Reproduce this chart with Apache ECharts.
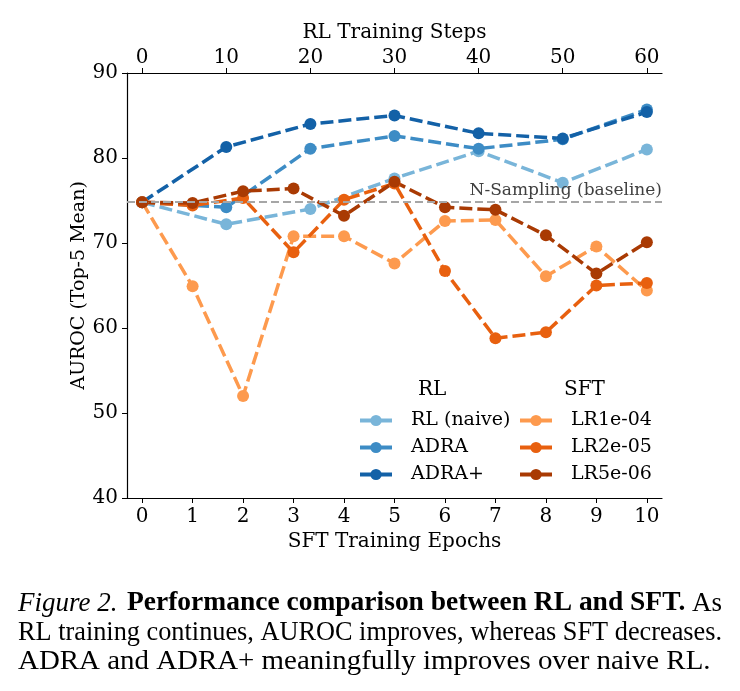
<!DOCTYPE html>
<html>
<head>
<meta charset="utf-8">
<script src="https://cdn.jsdelivr.net/npm/echarts@6/dist/echarts.min.js"></script>
<style>
  html, body { margin: 0; padding: 0; background: #fff; }
  #main { width: 740px; height: 691px; }
</style>
</head>
<body>
<div id="main"></div>
<script>
// x values
var epochs = [0, 1, 2, 3, 4, 5, 6, 7, 8, 9, 10];
var rlSteps = [0, 10, 20, 30, 40, 50, 60];
var epochTicks = [0, 1, 2, 3, 4, 5, 6, 7, 8, 9, 10];
var stepTicks = [0, 10, 20, 30, 40, 50, 60];

// RL runs (top axis, training steps)
var rlNaive = [74.8, 72.2, 74.0, 77.6, 80.8, 77.1, 81.0];
var adra = [74.8, 74.2, 81.1, 82.6, 81.1, 82.2, 85.7];
var adraPlus = [74.8, 81.3, 84.0, 85.0, 82.9, 82.3, 85.4];

// SFT runs (bottom axis, epochs)
var lr1e4 = [74.8, 64.9, 52.0, 70.8, 70.8, 67.6, 72.6, 72.7, 66.1, 69.6, 64.4];
var lr2e5 = [74.8, 74.4, 75.3, 68.9, 75.1, 77.0, 66.7, 58.8, 59.5, 65.0, 65.3];
var lr5e6 = [74.8, 74.7, 76.1, 76.4, 73.2, 77.2, 74.2, 73.9, 70.9, 66.4, 70.1];

var baseline = 74.8;

var serif = "DejaVu Serif";
var capFont = "Liberation Serif";
var myChart = echarts.init(document.getElementById("main"));

function pairs(xs, ys) {
  return xs.map(function (x, i) { return [x, ys[i]]; });
}

function makeSeries(name, xs, ys, color, axisIdx) {
  return {
    name: name,
    type: "line",
    xAxisIndex: axisIdx,
    data: pairs(xs, ys),
    symbol: "circle",
    symbolSize: 12,
    color: color,
    lineStyle: { width: 3.5, type: [13, 5], color: color },
    itemStyle: { color: color },
    emphasis: { disabled: true },
    animation: false
  };
}

var seriesList = [
  makeSeries("RL (naive)", rlSteps, rlNaive, "#79b5d9", 1),
  makeSeries("ADRA", rlSteps, adra, "#3d8cc5", 1),
  makeSeries("ADRA+", rlSteps, adraPlus, "#1361a7", 1),
  makeSeries("LR1e-04", epochs, lr1e4, "#fd9a4e", 0),
  makeSeries("LR2e-05", epochs, lr2e5, "#e8600f", 0),
  makeSeries("LR5e-06", epochs, lr5e6, "#a93a03", 0)
];

// baseline dashed line
seriesList[0].markLine = {
  silent: true,
  symbol: ["none", "none"],
  lineStyle: { color: "#a6a6a6", width: 2, type: [8, 4] },
  label: {
    show: true,
    position: "insideEndTop",
    formatter: "N-Sampling (baseline)",
    color: "#404040",
    fontFamily: serif,
    fontSize: 17,
    distance: [0, 3]
  },
  data: [{ yAxis: baseline }]
};

var legendCommon = {
  orient: "vertical",
  padding: 0,
  itemWidth: 32,
  itemHeight: 14,
  itemGap: 8,
  textStyle: { fontFamily: serif, fontSize: 19, color: "#000", padding: [0, 0, 0, 14] },
  lineStyle: { type: "solid", width: 4 },
  selectedMode: false
};

var axisFont = { fontFamily: serif, fontSize: 20, color: "#000" };

// caption text, one graphic per line, stretched to the measured widths
function capText(x, y, txt, extra, sx) {
  return {
    type: "text", x: x, y: y, scaleX: sx || 1,
    style: Object.assign({ text: txt, fontFamily: capFont, fontSize: 27, fill: "#000", verticalAlign: "top" }, extra || {})
  };
}

var option = {
  backgroundColor: "#fff",
  animation: false,
  grid: { left: 127, right: 78, top: 73, bottom: 193, containLabel: false },
  xAxis: [
    {
      type: "value",
      position: "bottom",
      min: -0.3,
      max: 10.3,
      name: "SFT Training Epochs",
      nameLocation: "middle",
      nameGap: 32,
      nameTextStyle: axisFont,
      axisLine: { show: true, onZero: false, lineStyle: { color: "#000", width: 1.2 } },
      axisTick: { show: true, length: 5, lineStyle: { color: "#000" }, customValues: epochTicks },
      axisLabel: Object.assign({ margin: 9, customValues: epochTicks }, axisFont),
      splitLine: { show: false }
    },
    {
      type: "value",
      position: "top",
      min: -1.8,
      max: 61.8,
      name: "RL Training Steps",
      nameLocation: "middle",
      nameGap: 26,
      nameTextStyle: axisFont,
      axisLine: { show: true, onZero: false, lineStyle: { color: "#000", width: 1.2 } },
      axisTick: { show: true, length: 5, lineStyle: { color: "#000" }, customValues: stepTicks },
      axisLabel: Object.assign({ margin: 5, customValues: stepTicks }, axisFont),
      splitLine: { show: false }
    }
  ],
  yAxis: {
    type: "value",
    min: 40,
    max: 90,
    interval: 10,
    name: "AUROC (Top-5 Mean)",
    nameLocation: "middle",
    nameGap: 38,
    nameMoveOverlap: false,
    nameTextStyle: { fontFamily: serif, fontSize: 19, color: "#000" },
    axisLine: { show: true, onZero: false, lineStyle: { color: "#000", width: 1.2 } },
    axisTick: { show: true, length: 5, lineStyle: { color: "#000" } },
    axisLabel: Object.assign({ margin: 9 }, axisFont),
    splitLine: { show: false }
  },
  legend: [
    Object.assign({}, legendCommon, {
      left: 358,
      top: 411,
      data: ["RL (naive)", "ADRA", "ADRA+"]
    }),
    Object.assign({}, legendCommon, {
      left: 518,
      top: 411,
      data: ["LR1e-04", "LR2e-05", "LR5e-06"]
    })
  ],
  graphic: [
    { type: "text", left: 418, top: 380, style: { text: "RL", fontFamily: serif, fontSize: 20, fill: "#000" } },
    { type: "text", left: 564, top: 380, style: { text: "SFT", fontFamily: serif, fontSize: 20, fill: "#000" } },
    capText(18, 590, "Figure 2.", { fontStyle: "italic" }),
    capText(127, 590, "Performance comparison between RL and SFT.", { fontWeight: "bold" }, 1.018),
    capText(722, 590, "As", { align: "right" }),
    capText(18, 619, "RL training continues, AUROC improves, whereas SFT decreases.", null, 0.974),
    capText(18, 648, "ADRA and ADRA+ meaningfully improves over naive RL.", null, 1.071)
  ],
  series: seriesList
};

myChart.setOption(option);
window.addEventListener("resize", function () {
  myChart.resize();
});
</script>
</body>
</html>
